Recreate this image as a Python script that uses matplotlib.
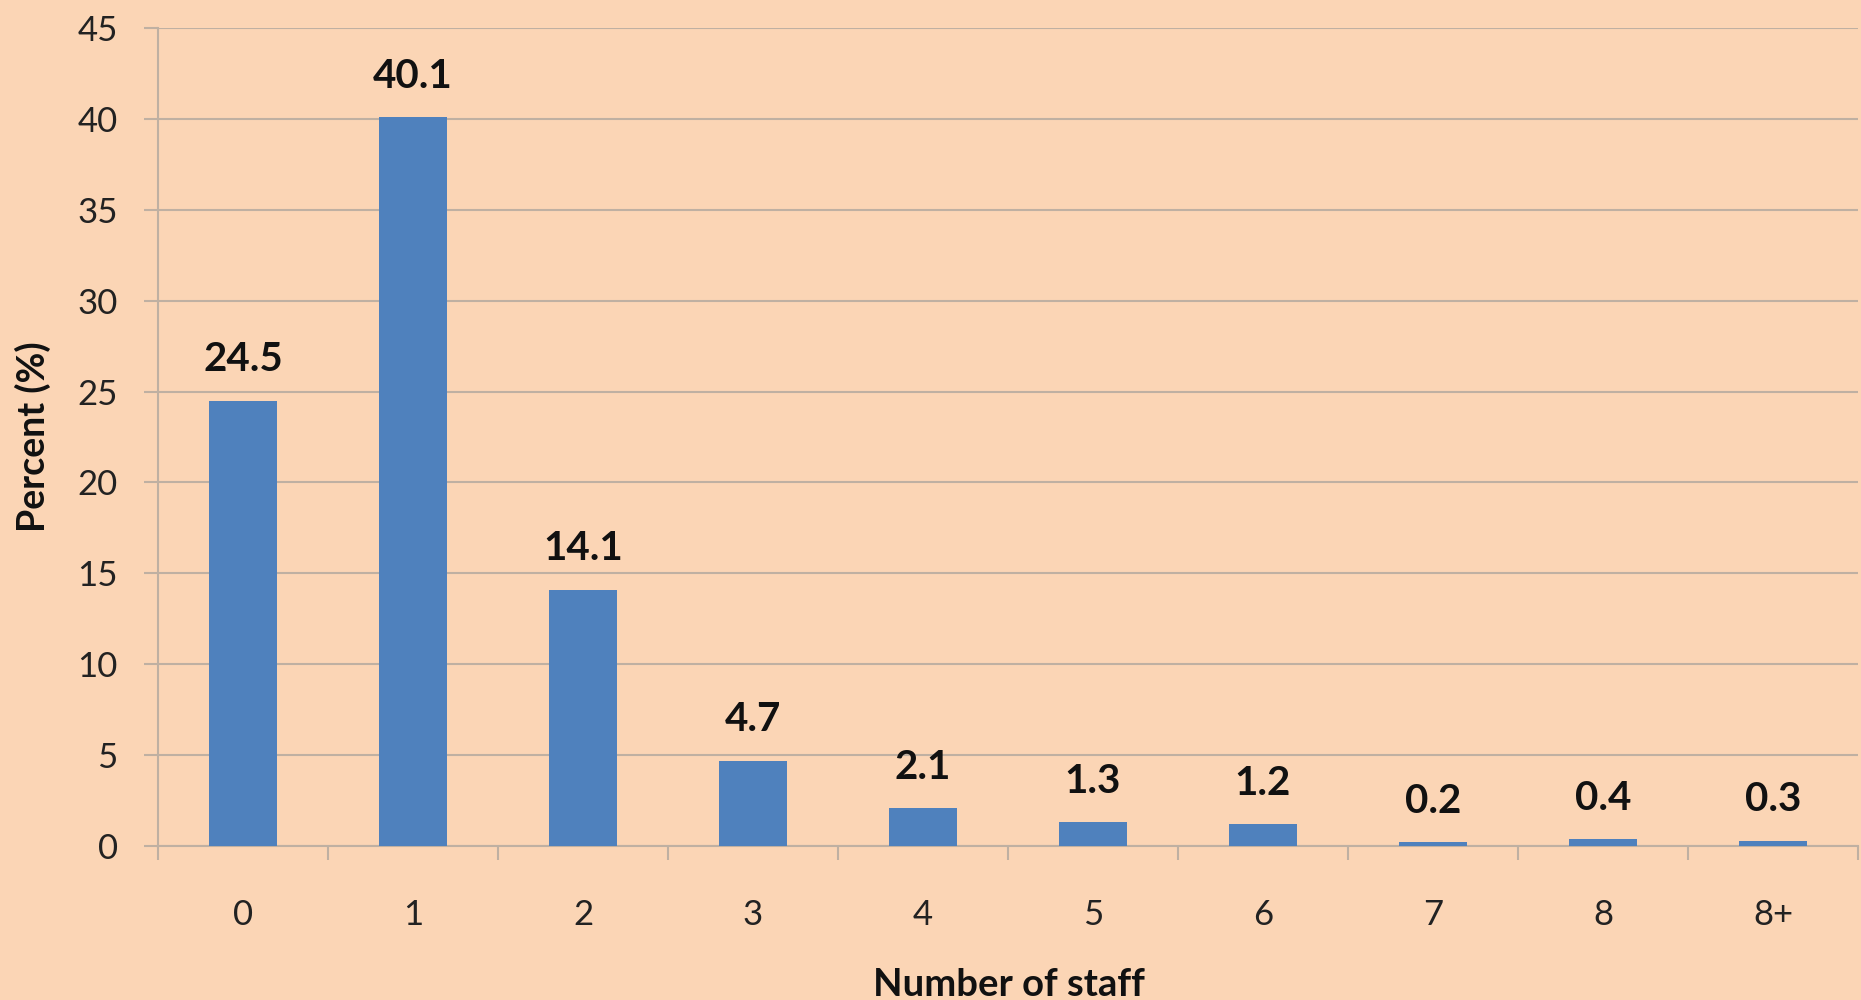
import matplotlib.pyplot as plt
import numpy as np

# staff count categories and share of respondents (%)
staff_labels = ['0', '1', '2', '3', '4', '5', '6', '7', '8', '8+']
percent = [24.5, 40.1, 14.1, 4.7, 2.1, 1.3, 1.2, 0.2, 0.4, 0.3]
y_ticks = [0, 5, 10, 15, 20, 25, 30, 35, 40, 45]

bg = '#FBD5B5'
bar_col = '#4F81BD'
grid_col = '#BFB0A2'

plt.rcParams['font.family'] = ['Lato', 'DejaVu Sans']

fig = plt.figure(figsize=(18.61, 10), dpi=100, facecolor=bg)
ax = fig.add_axes([158 / 1861, 1 - 846 / 1000, (1858 - 158) / 1861, (846 - 28) / 1000])
ax.set_facecolor(bg)

x = np.arange(len(staff_labels))
ax.bar(x, percent, width=0.4, color=bar_col, zorder=3)

for xi, v in zip(x, percent):
    ax.annotate('%.1f' % v, (xi, v), xytext=(0, 16), textcoords='offset points',
                ha='center', va='bottom', fontsize=29, fontweight='bold', color='#111111')

ax.set_xlim(-0.5, len(staff_labels) - 0.5)
ax.set_ylim(0, 45)
ax.set_yticks(y_ticks)
ax.yaxis.grid(True, color=grid_col, linewidth=1.5, zorder=0)

ax.set_xticks(x)
ax.set_xticklabels(staff_labels)
ax.set_xticks(np.arange(len(staff_labels) + 1) - 0.5, minor=True)
ax.tick_params(axis='x', which='major', length=0, pad=38, labelsize=25, labelcolor='#222222')
ax.tick_params(axis='x', which='minor', length=10, width=1.5, color=grid_col, direction='out')
ax.tick_params(axis='y', length=10, width=1.5, color=grid_col, pad=19, labelsize=25, labelcolor='#222222')

for side in ['top', 'right']:
    ax.spines[side].set_visible(False)
for side in ['left', 'bottom']:
    ax.spines[side].set_color(grid_col)
    ax.spines[side].set_linewidth(1.5)

fig.text(33 / 1861, 1 - 437 / 1000, 'Percent (%)', rotation=90, ha='center', va='center',
         fontsize=27, fontweight='bold', color='#111111')
fig.text(1009 / 1861, 1 - 985 / 1000, 'Number of staff', ha='center', va='center',
         fontsize=27.5, fontweight='bold', color='#111111')

fig.savefig('out.png', dpi=100, facecolor=bg)
